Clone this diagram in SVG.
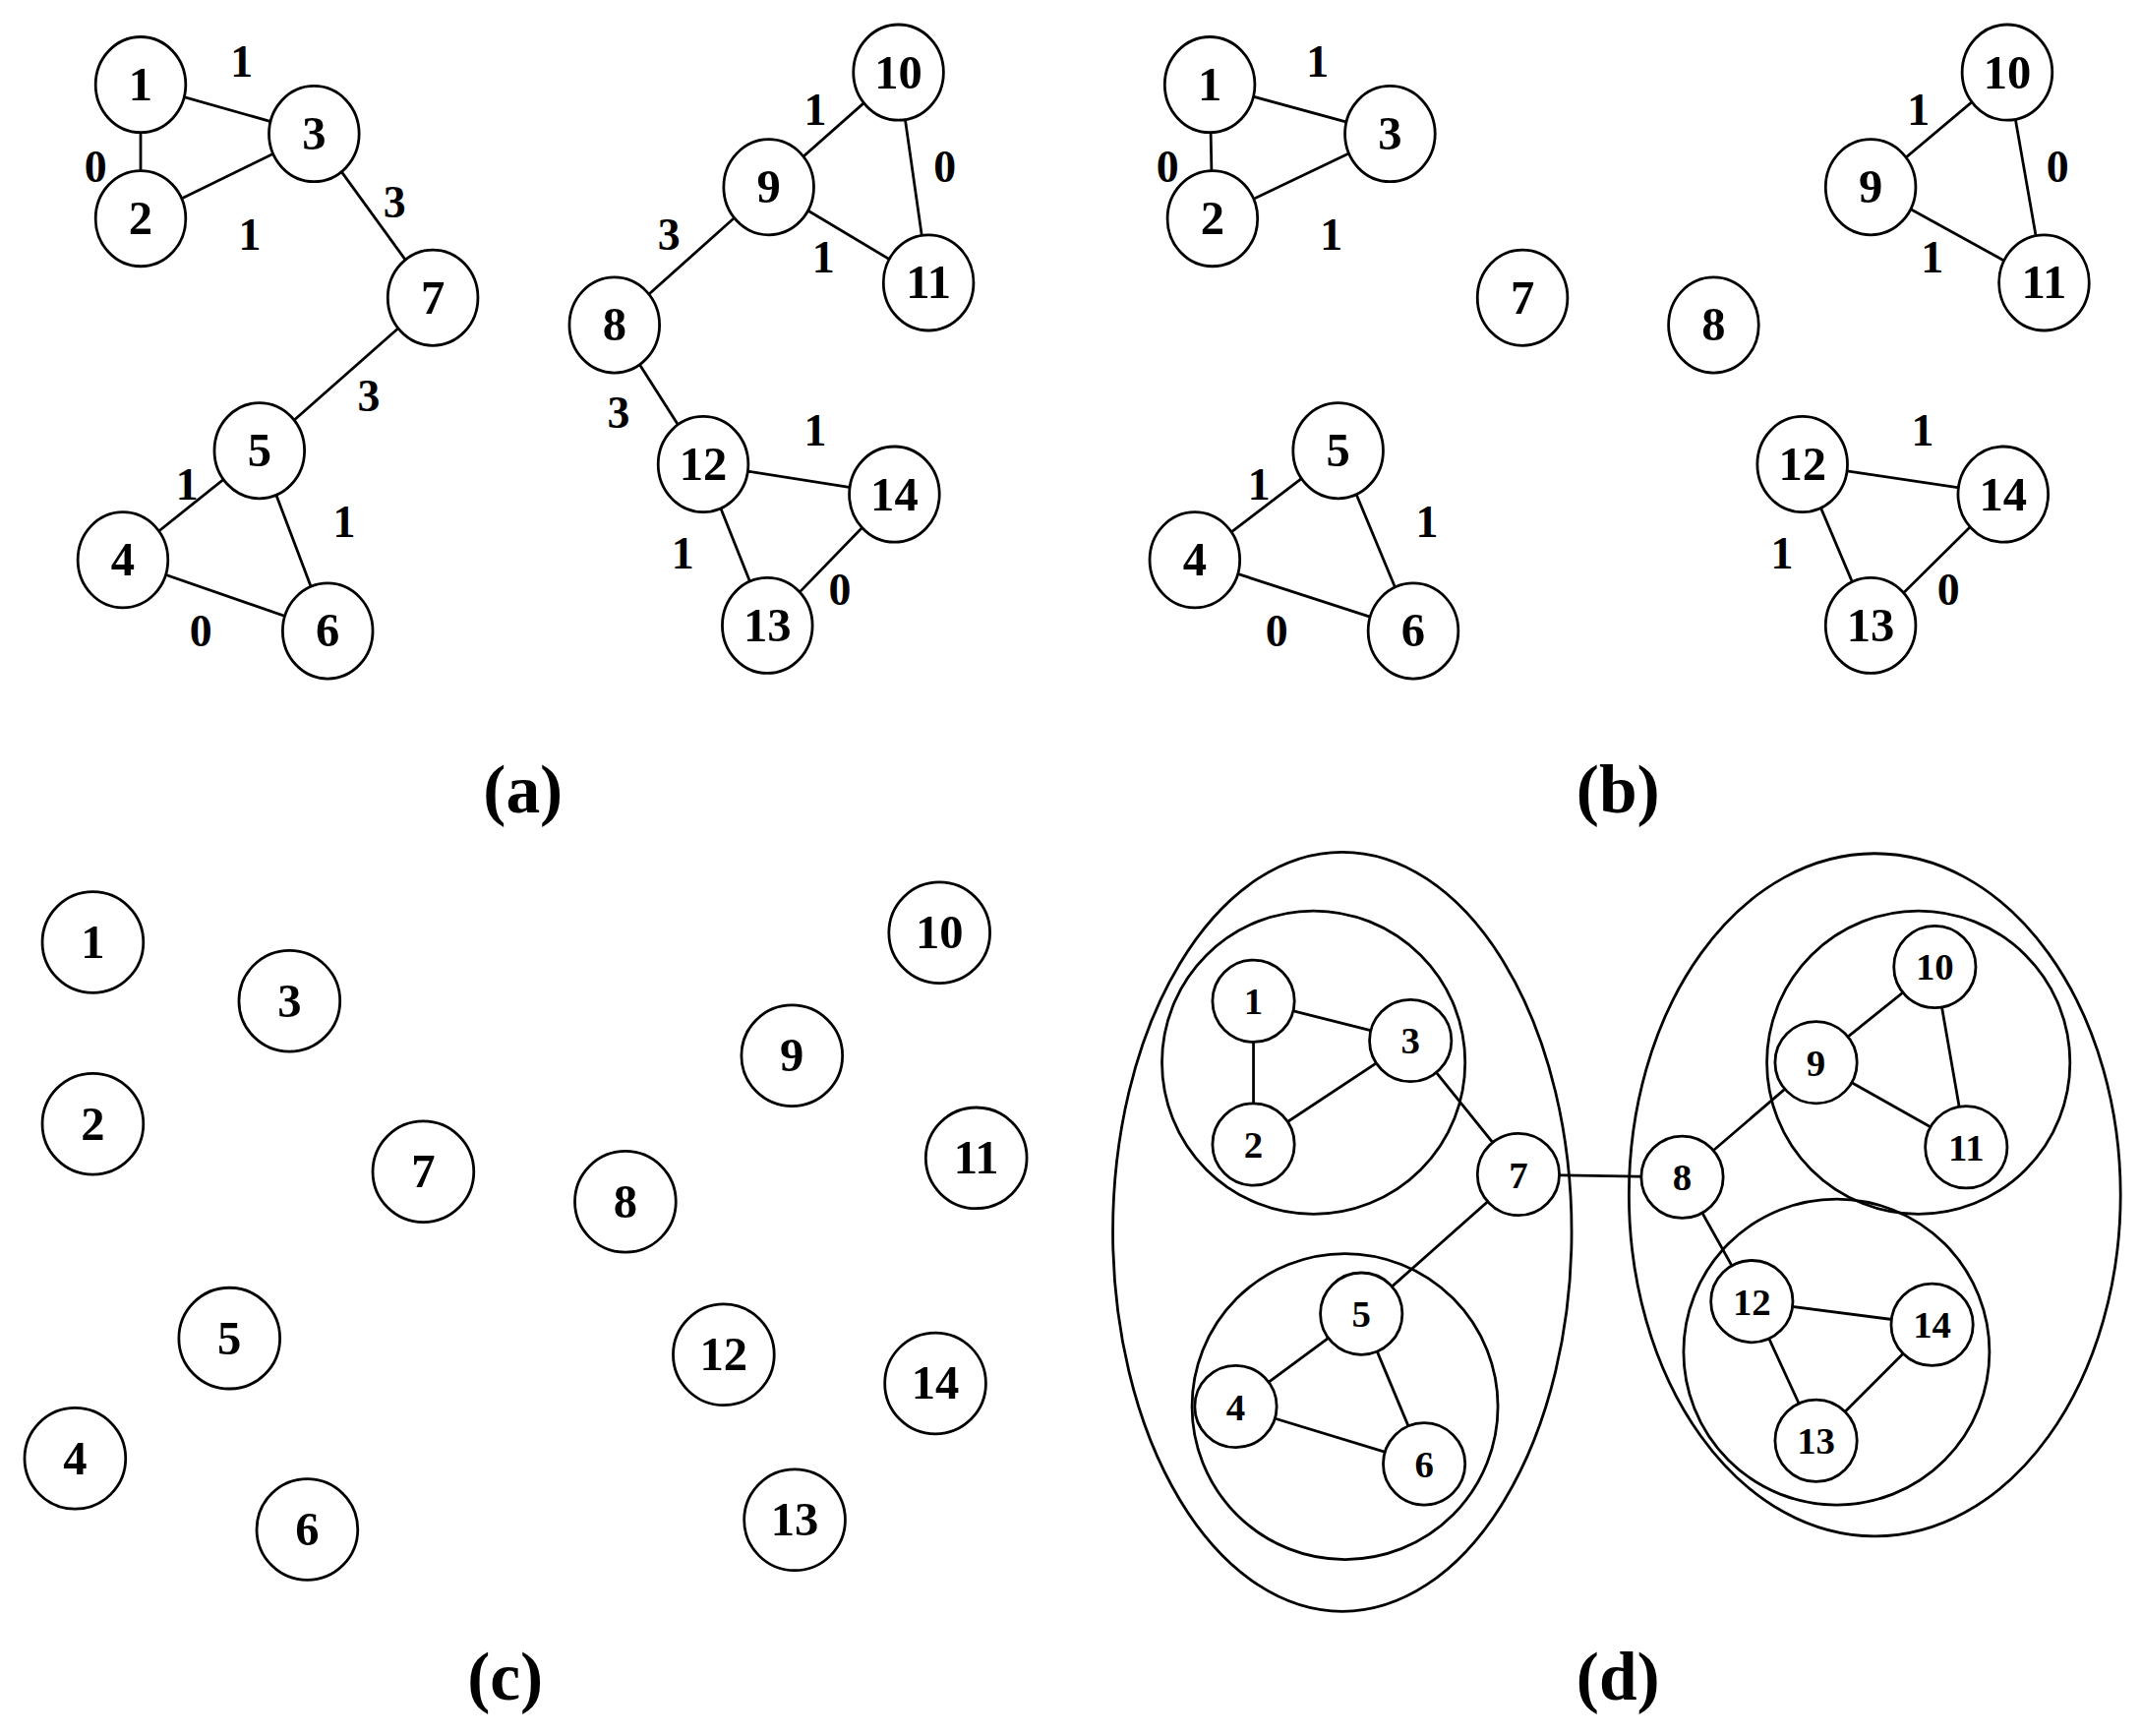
<svg xmlns="http://www.w3.org/2000/svg" width="2177" height="1765" viewBox="0 0 2177 1765">
<style>
.e{stroke:#000;stroke-width:2;fill:none}
.n{fill:#fff;stroke:#000;stroke-width:2}
.t{font-family:"Liberation Serif",serif;font-weight:bold;font-size:35px;text-anchor:middle;dominant-baseline:central}
.s{font-size:28px}
.w{font-family:"Liberation Serif",serif;font-weight:bold;font-size:33px;text-anchor:middle;dominant-baseline:central}
.c{font-family:"Liberation Serif",serif;font-weight:bold;font-size:50px;text-anchor:middle;dominant-baseline:central}
</style>
<rect width="2177" height="1765" fill="#fff"/>
<g transform="scale(1.3884)">
<g id="connectors" class="e">
<path d="M103,62L230,98M103,62L103,160M103,160L230,98M230,98L317,218M317,218L190,330M190,330L90,410M190,330L240,462M90,410L240,462M450,238L563,137M563,137L658,53M658,53L680,207M563,137L680,207M450,238L515,340M515,340L655,362M515,340L562,458M655,362L562,458"/>
<path d="M886,62L1018,98M886,62L888,160M888,160L1018,98M980,330L875,410M980,330L1035,462M875,410L1035,462M1370,137L1470,53M1470,53L1497,207M1370,137L1497,207M1320,340L1467,362M1320,340L1370,458M1467,362L1370,458"/>
<path d="M918,733L1033,762M918,733L918,838M918,838L1033,762M1033,762L1112,860M1112,860L997,962M997,962L905,1030M997,962L1043,1072M905,1030L1043,1072M1112,860L1232,862M1232,862L1330,778M1330,778L1417,708M1417,708L1440,840M1330,778L1440,840M1232,862L1283,953M1283,953L1415,970M1283,953L1330,1055M1415,970L1330,1055"/>
<ellipse cx="983" cy="902" rx="168" ry="278"/>
<circle cx="962" cy="778" r="111"/>
<circle cx="985" cy="1030" r="112"/>
<ellipse cx="1373" cy="875" rx="180" ry="250"/>
<circle cx="1405" cy="778" r="111"/>
<circle cx="1345" cy="990" r="112"/>
</g>
<g id="weights" class="w">
<text x="177" y="45">1</text><text x="70" y="122">0</text><text x="183" y="172">1</text><text x="289" y="148">3</text><text x="270" y="290">3</text><text x="137" y="355">1</text><text x="252" y="382">1</text><text x="147" y="462">0</text><text x="597" y="80">1</text><text x="692" y="122">0</text><text x="603" y="188">1</text><text x="490" y="172">3</text><text x="453" y="302">3</text><text x="597" y="315">1</text><text x="500" y="405">1</text><text x="615" y="432">0</text>
<text x="965" y="45">1</text><text x="855" y="122">0</text><text x="975" y="172">1</text><text x="922" y="355">1</text><text x="1045" y="382">1</text><text x="935" y="462">0</text><text x="1405" y="80">1</text><text x="1507" y="122">0</text><text x="1415" y="188">1</text><text x="1408" y="315">1</text><text x="1305" y="405">1</text><text x="1427" y="432">0</text>
</g>
<g id="a-nodes">
<g id="a1"><ellipse class="n" cx="103" cy="62" rx="33" ry="35"/><text class="t" x="103" y="62">1</text></g>
<g id="a2"><ellipse class="n" cx="103" cy="160" rx="33" ry="35"/><text class="t" x="103" y="160">2</text></g>
<g id="a3"><ellipse class="n" cx="230" cy="98" rx="33" ry="35"/><text class="t" x="230" y="98">3</text></g>
<g id="a7"><ellipse class="n" cx="317" cy="218" rx="33" ry="35"/><text class="t" x="317" y="218">7</text></g>
<g id="a5"><ellipse class="n" cx="190" cy="330" rx="33" ry="35"/><text class="t" x="190" y="330">5</text></g>
<g id="a4"><ellipse class="n" cx="90" cy="410" rx="33" ry="35"/><text class="t" x="90" y="410">4</text></g>
<g id="a6"><ellipse class="n" cx="240" cy="462" rx="33" ry="35"/><text class="t" x="240" y="462">6</text></g>
<g id="a8"><ellipse class="n" cx="450" cy="238" rx="33" ry="35"/><text class="t" x="450" y="238">8</text></g>
<g id="a9"><ellipse class="n" cx="563" cy="137" rx="33" ry="35"/><text class="t" x="563" y="137">9</text></g>
<g id="a10"><ellipse class="n" cx="658" cy="53" rx="33" ry="35"/><text class="t" x="658" y="53">10</text></g>
<g id="a11"><ellipse class="n" cx="680" cy="207" rx="33" ry="35"/><text class="t" x="680" y="207">11</text></g>
<g id="a12"><ellipse class="n" cx="515" cy="340" rx="33" ry="35"/><text class="t" x="515" y="340">12</text></g>
<g id="a14"><ellipse class="n" cx="655" cy="362" rx="33" ry="35"/><text class="t" x="655" y="362">14</text></g>
<g id="a13"><ellipse class="n" cx="562" cy="458" rx="33" ry="35"/><text class="t" x="562" y="458">13</text></g>
</g>
<g id="b-nodes">
<g id="b1"><ellipse class="n" cx="886" cy="62" rx="33" ry="35"/><text class="t" x="886" y="62">1</text></g>
<g id="b2"><ellipse class="n" cx="888" cy="160" rx="33" ry="35"/><text class="t" x="888" y="160">2</text></g>
<g id="b3"><ellipse class="n" cx="1018" cy="98" rx="33" ry="35"/><text class="t" x="1018" y="98">3</text></g>
<g id="b7"><ellipse class="n" cx="1115" cy="218" rx="33" ry="35"/><text class="t" x="1115" y="218">7</text></g>
<g id="b8"><ellipse class="n" cx="1255" cy="238" rx="33" ry="35"/><text class="t" x="1255" y="238">8</text></g>
<g id="b5"><ellipse class="n" cx="980" cy="330" rx="33" ry="35"/><text class="t" x="980" y="330">5</text></g>
<g id="b4"><ellipse class="n" cx="875" cy="410" rx="33" ry="35"/><text class="t" x="875" y="410">4</text></g>
<g id="b6"><ellipse class="n" cx="1035" cy="462" rx="33" ry="35"/><text class="t" x="1035" y="462">6</text></g>
<g id="b10"><ellipse class="n" cx="1470" cy="53" rx="33" ry="35"/><text class="t" x="1470" y="53">10</text></g>
<g id="b9"><ellipse class="n" cx="1370" cy="137" rx="33" ry="35"/><text class="t" x="1370" y="137">9</text></g>
<g id="b11"><ellipse class="n" cx="1497" cy="207" rx="33" ry="35"/><text class="t" x="1497" y="207">11</text></g>
<g id="b12"><ellipse class="n" cx="1320" cy="340" rx="33" ry="35"/><text class="t" x="1320" y="340">12</text></g>
<g id="b14"><ellipse class="n" cx="1467" cy="362" rx="33" ry="35"/><text class="t" x="1467" y="362">14</text></g>
<g id="b13"><ellipse class="n" cx="1370" cy="458" rx="33" ry="35"/><text class="t" x="1370" y="458">13</text></g>
</g>
<g id="c-nodes">
<g id="c1"><circle class="n" cx="68" cy="690" r="37"/><text class="t" x="68" y="690">1</text></g>
<g id="c3"><circle class="n" cx="212" cy="733" r="37"/><text class="t" x="212" y="733">3</text></g>
<g id="c2"><circle class="n" cx="68" cy="823" r="37"/><text class="t" x="68" y="823">2</text></g>
<g id="c7"><circle class="n" cx="310" cy="858" r="37"/><text class="t" x="310" y="858">7</text></g>
<g id="c8"><circle class="n" cx="458" cy="880" r="37"/><text class="t" x="458" y="880">8</text></g>
<g id="c9"><circle class="n" cx="580" cy="773" r="37"/><text class="t" x="580" y="773">9</text></g>
<g id="c10"><circle class="n" cx="688" cy="683" r="37"/><text class="t" x="688" y="683">10</text></g>
<g id="c11"><circle class="n" cx="715" cy="848" r="37"/><text class="t" x="715" y="848">11</text></g>
<g id="c5"><circle class="n" cx="168" cy="980" r="37"/><text class="t" x="168" y="980">5</text></g>
<g id="c12"><circle class="n" cx="530" cy="992" r="37"/><text class="t" x="530" y="992">12</text></g>
<g id="c14"><circle class="n" cx="685" cy="1013" r="37"/><text class="t" x="685" y="1013">14</text></g>
<g id="c4"><circle class="n" cx="55" cy="1068" r="37"/><text class="t" x="55" y="1068">4</text></g>
<g id="c6"><circle class="n" cx="225" cy="1120" r="37"/><text class="t" x="225" y="1120">6</text></g>
<g id="c13"><circle class="n" cx="582" cy="1113" r="37"/><text class="t" x="582" y="1113">13</text></g>
</g>
<g id="d-nodes">
<g id="d1"><circle class="n" cx="918" cy="733" r="30"/><text class="t s" x="918" y="733">1</text></g>
<g id="d3"><circle class="n" cx="1033" cy="762" r="30"/><text class="t s" x="1033" y="762">3</text></g>
<g id="d2"><circle class="n" cx="918" cy="838" r="30"/><text class="t s" x="918" y="838">2</text></g>
<g id="d7"><circle class="n" cx="1112" cy="860" r="30"/><text class="t s" x="1112" y="860">7</text></g>
<g id="d5"><circle class="n" cx="997" cy="962" r="30"/><text class="t s" x="997" y="962">5</text></g>
<g id="d4"><circle class="n" cx="905" cy="1030" r="30"/><text class="t s" x="905" y="1030">4</text></g>
<g id="d6"><circle class="n" cx="1043" cy="1072" r="30"/><text class="t s" x="1043" y="1072">6</text></g>
<g id="d10"><circle class="n" cx="1417" cy="708" r="30"/><text class="t s" x="1417" y="708">10</text></g>
<g id="d9"><circle class="n" cx="1330" cy="778" r="30"/><text class="t s" x="1330" y="778">9</text></g>
<g id="d11"><circle class="n" cx="1440" cy="840" r="30"/><text class="t s" x="1440" y="840">11</text></g>
<g id="d8"><circle class="n" cx="1232" cy="862" r="30"/><text class="t s" x="1232" y="862">8</text></g>
<g id="d12"><circle class="n" cx="1283" cy="953" r="30"/><text class="t s" x="1283" y="953">12</text></g>
<g id="d14"><circle class="n" cx="1415" cy="970" r="30"/><text class="t s" x="1415" y="970">14</text></g>
<g id="d13"><circle class="n" cx="1330" cy="1055" r="30"/><text class="t s" x="1330" y="1055">13</text></g>
</g>
<g id="captions" class="c">
<text x="383" y="578">(a)</text><text x="1185" y="578">(b)</text><text x="370" y="1228">(c)</text><text x="1185" y="1228">(d)</text>
</g>
</g>
</svg>
